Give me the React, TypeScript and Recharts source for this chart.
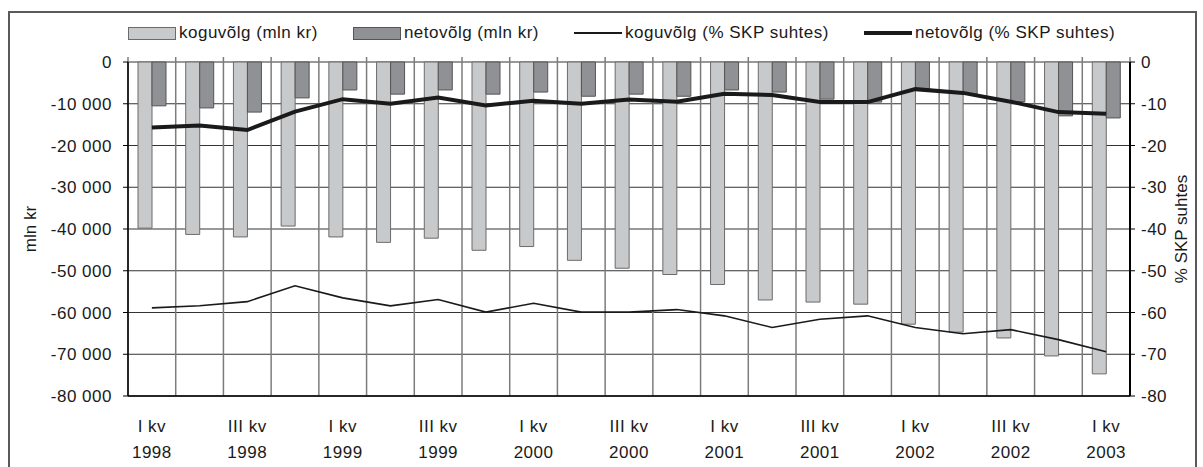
import React from 'react';
import { ComposedChart, Bar, Line, XAxis, YAxis, CartesianGrid, Legend } from 'recharts';

const categories = [
  'I kv 1998', 'II kv 1998', 'III kv 1998', 'IV kv 1998',
  'I kv 1999', 'II kv 1999', 'III kv 1999', 'IV kv 1999',
  'I kv 2000', 'II kv 2000', 'III kv 2000', 'IV kv 2000',
  'I kv 2001', 'II kv 2001', 'III kv 2001', 'IV kv 2001',
  'I kv 2002', 'II kv 2002', 'III kv 2002', 'IV kv 2002',
  'I kv 2003',
];

// mln kr
const koguvolgMln = [
  -39800, -41300, -41900, -39300, -41900, -43200, -42200, -45100, -44200, -47500,
  -49400, -50900, -53300, -57000, -57500, -58000, -62800, -64700, -66100, -70400, -74700,
];
const netovolgMln = [
  -10500, -11000, -12000, -8600, -6700, -7700, -6700, -7700, -7200, -8200,
  -7700, -8200, -6700, -7200, -8900, -9600, -6500, -7700, -9500, -12900, -13400,
];

// % SKP suhtes
const koguvolgPct = [
  -58.9, -58.4, -57.4, -53.6, -56.5, -58.4, -56.9, -59.9, -57.8, -59.9,
  -59.9, -59.3, -60.8, -63.6, -61.6, -60.8, -63.6, -65.1, -64.1, -66.5, -69.4,
];
const netovolgPct = [
  -15.7, -15.2, -16.3, -11.9, -8.9, -10.0, -8.5, -10.4, -9.3, -10.0,
  -9.0, -9.5, -7.6, -7.9, -9.6, -9.6, -6.5, -7.4, -9.5, -12.0, -12.4,
];

const mlnTicks = [0, -10000, -20000, -30000, -40000, -50000, -60000, -70000, -80000];
const pctTicks = [0, -10, -20, -30, -40, -50, -60, -70, -80];

const data = categories.map((q, i) => ({
  q,
  koguMln: koguvolgMln[i],
  netoMln: netovolgMln[i],
  koguPct: koguvolgPct[i],
  netoPct: netovolgPct[i],
}));

const FONT = "'Liberation Sans', Arial, sans-serif";
const FS = 17;
const LS = 0.5;
const INK = '#1a1a1a';
const LIGHT = '#c8c9cb';
const DARK = '#909194';

const legendItems = [
  { label: 'koguvõlg (mln kr)', kind: 'bar', fill: LIGHT, border: '#6b6b6b' },
  { label: 'netovõlg (mln kr)', kind: 'bar', fill: DARK, border: '#555' },
  { label: 'koguvõlg (% SKP suhtes)', kind: 'line', weight: 1.5 },
  { label: 'netovõlg (% SKP suhtes)', kind: 'line', weight: 4 },
];

function fmtThousands(v: number) {
  const s = String(Math.abs(v)).replace(/\B(?=(\d{3})+(?!\d))/g, ' ');
  return v < 0 ? '-' + s : s;
}

function QuarterTick({ x, y, payload }: any) {
  const label = String(payload.value);
  const cut = label.lastIndexOf(' ');
  return (
    <text textAnchor="middle" fontFamily={FONT} fontSize={FS} fill={INK} letterSpacing={LS}>
      <tspan x={x} y={y + 36}>{label.slice(0, cut)}</tspan>
      <tspan x={x} y={y + 62}>{label.slice(cut + 1)}</tspan>
    </text>
  );
}

const axisTitle = (text: string, dx: number) => (props: any) => {
  const vb = props.viewBox;
  const cx = vb.x + dx;
  const cy = vb.y + vb.height / 2;
  return (
    <text
      x={cx}
      y={cy}
      transform={`rotate(-90 ${cx} ${cy})`}
      textAnchor="middle"
      dominantBaseline="central"
      fontFamily={FONT}
      fontSize={FS}
      fill={INK}
    >
      {text}
    </text>
  );
};

function ChartLegend() {
  return (
    <div
      style={{
        display: 'flex',
        alignItems: 'center',
        fontFamily: FONT,
        fontSize: FS,
        letterSpacing: LS,
        color: INK,
        lineHeight: '18px',
        whiteSpace: 'nowrap',
      }}
    >
      {legendItems.map((it) => (
        <div key={it.label} style={{ display: 'flex', alignItems: 'center', marginRight: 35 }}>
          {it.kind === 'bar' ? (
            <span
              style={{
                display: 'inline-block',
                width: 48,
                height: 13,
                boxSizing: 'border-box',
                background: it.fill,
                border: `1px solid ${it.border}`,
              }}
            />
          ) : (
            <span style={{ display: 'inline-block', width: 48, height: it.weight, background: INK }} />
          )}
          <span style={{ marginLeft: 3 }}>{it.label}</span>
        </div>
      ))}
    </div>
  );
}

export default function App() {
  const n = categories.length;
  return (
    <div style={{ position: 'absolute', left: 0, top: 0, width: 1203, height: 467, background: '#fff' }}>
      <div
        style={{
          position: 'absolute',
          left: 8,
          top: 11,
          width: 1189,
          height: 456,
          boxSizing: 'border-box',
          border: '2px solid #5a5a5a',
          borderBottom: 'none',
        }}
      />
      <ComposedChart
        width={1203}
        height={467}
        data={data}
        margin={{ top: 62, right: 0, bottom: 0, left: 0 }}
        barGap={0}
        barSize={14}
        style={{ position: 'absolute', left: 0, top: 0 }}
      >
        <CartesianGrid
          yAxisId="left"
          stroke="#333"
          strokeWidth={1}
          verticalCoordinatesGenerator={({ offset }: any) =>
            Array.from({ length: n + 1 }, (_, i) => offset.left + (i * offset.width) / n)
          }
          vertical={(p: any) => (
            <line key={p.key} x1={p.x1} x2={p.x2} y1={p.y1 - 5} y2={p.y2} stroke="#7c7c7c" strokeWidth={1.5} />
          )}
        />
        <XAxis
          dataKey="q"
          interval={1}
          height={71}
          tickSize={0}
          tickMargin={0}
          tickLine={false}
          axisLine={{ stroke: '#000', strokeWidth: 1.5 }}
          tick={<QuarterTick />}
        />
        <YAxis
          yAxisId="left"
          width={128}
          domain={[-80000, 0]}
          ticks={mlnTicks}
          tickFormatter={fmtThousands}
          tickSize={5}
          tickMargin={11}
          axisLine={{ stroke: '#000', strokeWidth: 1.5 }}
          tickLine={{ stroke: '#000' }}
          tick={{ fontFamily: FONT, fontSize: FS, fill: INK, letterSpacing: LS }}
          label={axisTitle('mln kr', 30)}
        />
        <YAxis
          yAxisId="right"
          orientation="right"
          width={73}
          domain={[-80, 0]}
          ticks={pctTicks}
          tickSize={5}
          tickMargin={6}
          axisLine={{ stroke: '#000', strokeWidth: 2 }}
          tickLine={{ stroke: '#000' }}
          tick={{ fontFamily: FONT, fontSize: FS, fill: INK, letterSpacing: LS }}
          label={axisTitle('% SKP suhtes', 51)}
        />
        <Legend
          verticalAlign="middle"
          align="center"
          content={<ChartLegend />}
          wrapperStyle={{ top: 24, left: 128, width: 'auto' }}
        />
        <Bar yAxisId="left" dataKey="koguMln" name="koguvõlg (mln kr)" fill={LIGHT} stroke="#6b6b6b" strokeWidth={1} isAnimationActive={false} />
        <Bar yAxisId="left" dataKey="netoMln" name="netovõlg (mln kr)" fill={DARK} stroke="#555" strokeWidth={1} isAnimationActive={false} />
        <Line yAxisId="right" type="linear" dataKey="koguPct" name="koguvõlg (% SKP suhtes)" stroke={INK} strokeWidth={1.6} dot={false} isAnimationActive={false} />
        <Line yAxisId="right" type="linear" dataKey="netoPct" name="netovõlg (% SKP suhtes)" stroke={INK} strokeWidth={4} dot={false} isAnimationActive={false} />
      </ComposedChart>
    </div>
  );
}
